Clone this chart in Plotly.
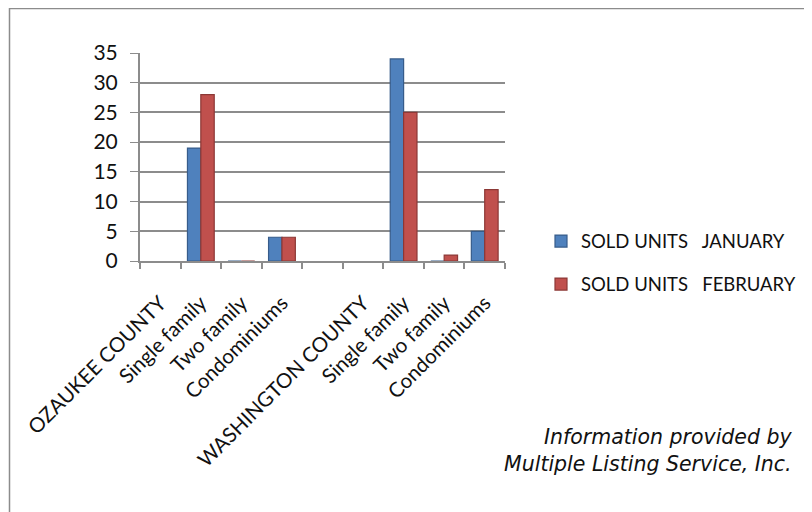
import plotly.graph_objects as go

categories = ["OZAUKEE COUNTY", "Single family", "Two family", "Condominiums", "",
              "WASHINGTON COUNTY", "Single family", "Two family", "Condominiums"]
january = [None, 19, 0, 4, None, None, 34, 0, 5]
february = [None, 28, 0, 4, None, None, 25, 1, 12]
series_names = ["SOLD UNITS   JANUARY", "SOLD UNITS   FEBRUARY"]
y_ticks = [0, 5, 10, 15, 20, 25, 30, 35]

positions = list(range(len(categories)))

W, H = 812, 512
OFF = 8  # page body margin
L, R, T, B = 132, 315, 45, 259
pw, ph = W - L - R, H - T - B


def px_x(p):
    return (p - OFF - L) / pw


def px_y(p):
    return (H - B - (p - OFF)) / ph


fig = go.Figure()
fig.add_trace(go.Bar(x=positions, y=january, name=series_names[0], legendgroup="a",
                     marker=dict(color="#4F81BD", line=dict(color="#375C8A", width=1.2))))
fig.add_trace(go.Bar(x=positions, y=february, name=series_names[1], legendgroup="b",
                     marker=dict(color="#C0504D", line=dict(color="#8C3836", width=1.2))))

fig.update_layout(
    width=W, height=H,
    margin=dict(l=L, r=R, t=T, b=B),
    paper_bgcolor="white", plot_bgcolor="white",
    barmode="group", bargap=0.34, bargroupgap=0,
    font=dict(family="Lato, Open Sans, sans-serif", size=20, color="#111111"),
    showlegend=True,
    legend=dict(x=px_x(541), y=px_y(263), xanchor="left", yanchor="middle",
                font=dict(size=18.5), tracegroupgap=16, traceorder="grouped",
                bgcolor="rgba(0,0,0,0)"),
    xaxis=dict(tickmode="array", tickvals=positions, ticktext=categories,
               range=[-0.5, len(categories) - 0.5], tickangle=-45,
               ticks="", showgrid=False, showline=True, linecolor="#8c8c8c", linewidth=2,
               minor=dict(ticks="outside", tick0=0.5, dtick=1, ticklen=6,
                          tickcolor="#8c8c8c", tickwidth=1.5, showgrid=False),
               tickfont=dict(size=20.5), ticklabelstandoff=20),
    yaxis=dict(range=[0, 35], tickmode="array", tickvals=y_ticks,
               showgrid=True, gridcolor="#8c8c8c", gridwidth=2,
               ticks="outside", ticklen=8, tickcolor="#8c8c8c",
               showline=True, linecolor="#8c8c8c", linewidth=2,
               zeroline=False, tickfont=dict(size=21), ticklabelstandoff=8),
    shapes=[dict(type="rect", xref="paper", yref="paper",
                 x0=px_x(9.5), x1=px_x(840), y0=px_y(540), y1=px_y(8.5),
                 line=dict(color="#8c8c8c", width=1.5), fillcolor="rgba(0,0,0,0)",
                 layer="below")],
    annotations=[dict(xref="paper", yref="paper", x=px_x(794), y=px_y(450),
                      xanchor="right", yanchor="middle", align="right", showarrow=False,
                      text="<i>Information provided by<br>Multiple Listing Service, Inc.</i>",
                      font=dict(family="DejaVu Sans, sans-serif", size=20.5,
                                color="#111111"))],
)

fig.write_html("out.html")
